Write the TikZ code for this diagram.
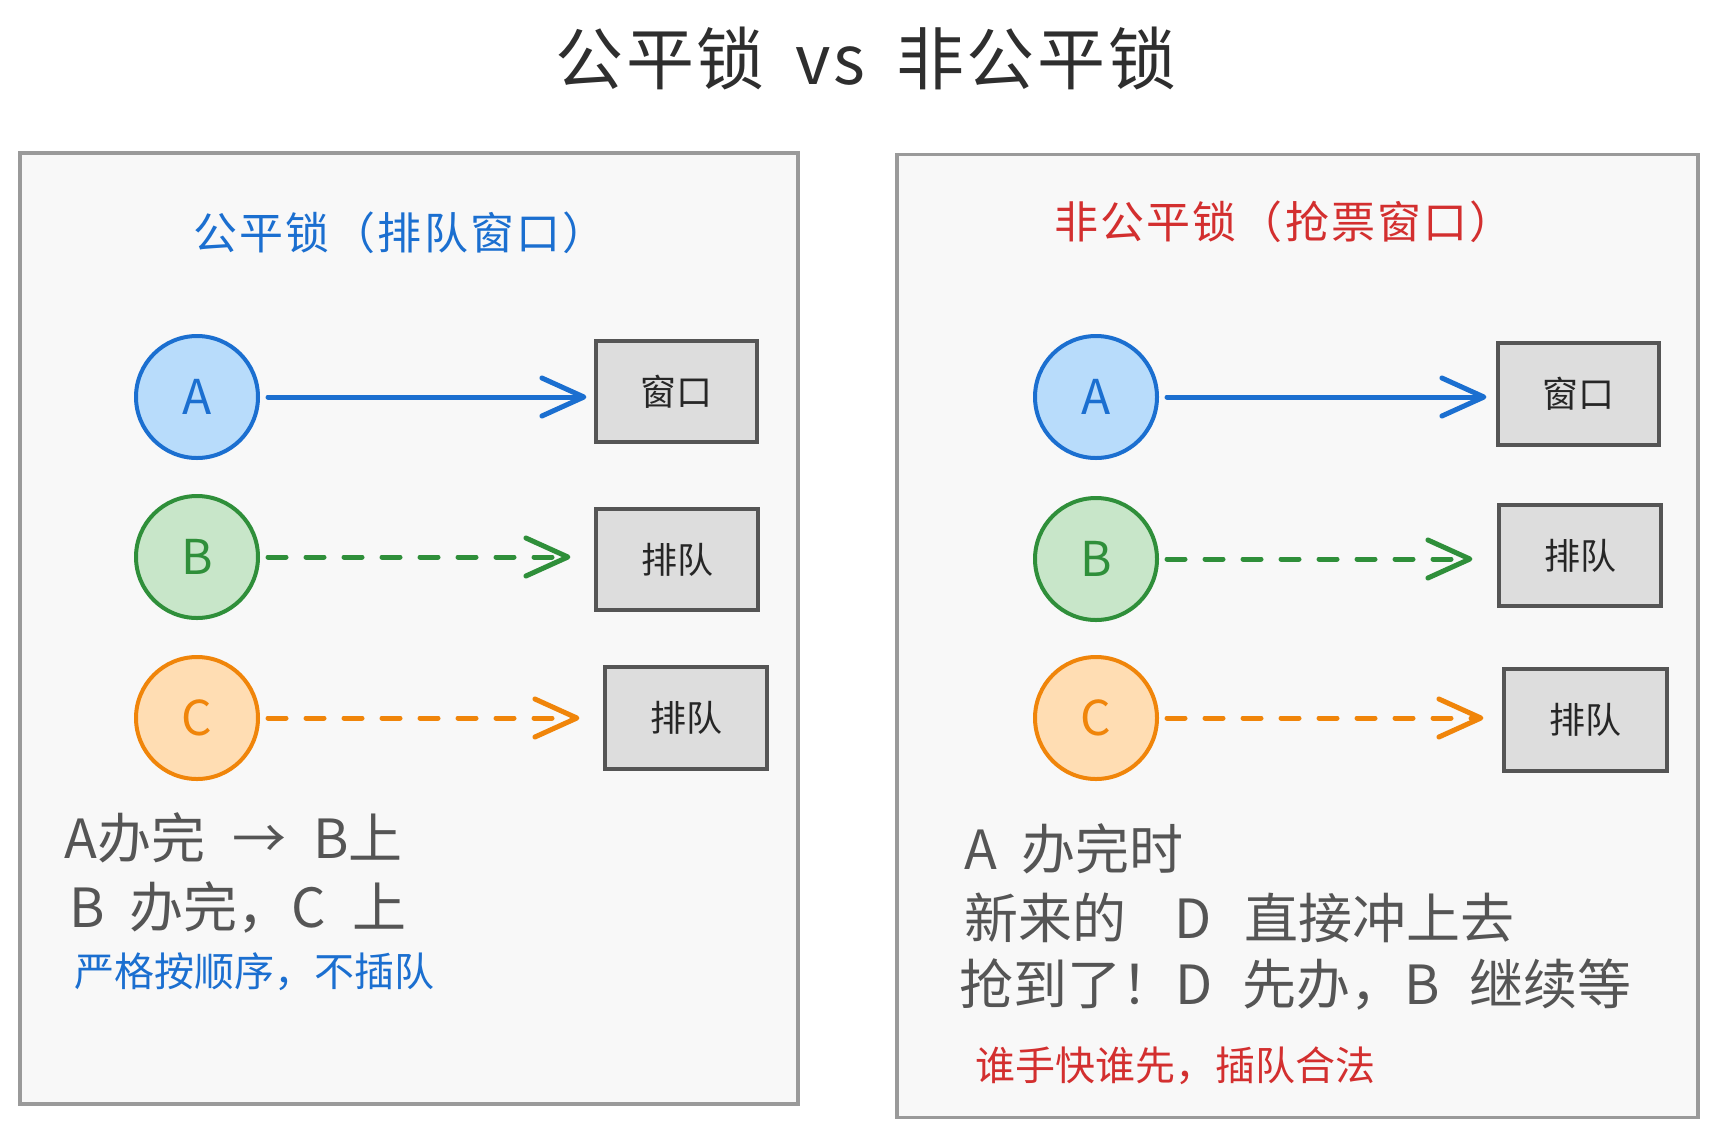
\documentclass[tikz,border=0pt]{standalone}
\usepackage{fontspec}
\setmainfont{Noto Sans CJK SC}
\usetikzlibrary{arrows.meta}
\definecolor{panelfill}{HTML}{F8F8F8}
\definecolor{paneldraw}{HTML}{9A9A9A}
\definecolor{boxfill}{HTML}{DDDDDD}
\definecolor{boxdraw}{HTML}{555555}
\definecolor{bluestroke}{HTML}{1B6FD0}
\definecolor{bluefill}{HTML}{B8DCFB}
\definecolor{greenstroke}{HTML}{2F8F3A}
\definecolor{greenfill}{HTML}{C8E6C9}
\definecolor{orangestroke}{HTML}{F0850A}
\definecolor{orangefill}{HTML}{FFDDB3}
\definecolor{redtext}{HTML}{D32F2F}
\definecolor{graytext}{HTML}{555555}
\definecolor{titletext}{HTML}{2E2E2E}
\tikzset{
  panel/.style={draw=paneldraw, fill=panelfill, line width=1.6pt, inner sep=0pt},
  person/.style={circle, line width=2pt, minimum size=61pt, inner sep=0pt, font=\fontsize{24pt}{28pt}\selectfont},
  pA/.style={person, draw=bluestroke, fill=bluefill, text=bluestroke},
  pB/.style={person, draw=greenstroke, fill=greenfill, text=greenstroke},
  pC/.style={person, draw=orangestroke, fill=orangefill, text=orangestroke},
  win/.style={draw=boxdraw, fill=boxfill, line width=1.6pt, inner sep=0pt, text=black!85, font=\fontsize{18pt}{22pt}\selectfont},
  conn/.style={line width=2.5pt, line cap=round, -{Straight Barb[length=21pt,width=19pt,round]}},
  dashconn/.style={conn, dash pattern=on 9pt off 10pt},
  note/.style={anchor=west, inner sep=0pt, text=graytext},
  subtitle/.style={inner sep=0pt, font=\fontsize{22pt}{26pt}\selectfont\addfontfeatures{LetterSpace=5}},
}
\begin{document}
\begin{tikzpicture}[x=0.5pt,y=-0.5pt]
\useasboundingbox[fill=white] (0,0) rectangle (1718,1136);

% title
\node[inner sep=0pt, text=titletext, font=\fontsize{34pt}{40pt}\selectfont\addfontfeatures{LetterSpace=4}] (title) at (866,58) {公平锁\hspace{0.45em}vs\hspace{0.45em}非公平锁};

% panels
\node[panel, minimum width=389pt, minimum height=475.5pt] (pl) at (409,628.5) {};
\node[panel, minimum width=400.5pt, minimum height=481.5pt] (pr) at (1297.5,636) {};

% left panel
\node[subtitle, text=bluestroke] (stl) at (400,233) {公平锁（排队窗口）};

\node[pA] (lA) at (197,397) {A};
\node[pB] (lB) at (197,557) {B};
\node[pC] (lC) at (197,718) {C};

\node[win, minimum width=80.5pt, minimum height=50.5pt] (lw1) at (676.5,391.5) {窗口};
\node[win, minimum width=81pt, minimum height=50.5pt] (lw2) at (677,559.5) {排队};
\node[win, minimum width=81pt, minimum height=51pt] (lw3) at (686,718) {排队};

\draw[conn, draw=bluestroke, shorten <=4pt, shorten >=4pt] (lA.east) -- (lA.east -| lw1.west);
\draw[dashconn, draw=greenstroke, shorten <=4pt, shorten >=12pt] (lB.east) -- (lB.east -| lw2.west);
\draw[dashconn, draw=orangestroke, shorten <=4pt, shorten >=12pt] (lC.east) -- (lC.east -| lw3.west);

\node[note, font=\fontsize{27pt}{32pt}\selectfont] (ln1) at (64,838) {A办完\hspace{0.5em}→\hspace{0.5em}B上};
\node[note, font=\fontsize{27pt}{32pt}\selectfont] (ln2) at (69,907) {B\hspace{0.45em}办完，C\hspace{0.5em}上};
\node[note, text=bluestroke, font=\fontsize{20pt}{24pt}\selectfont] (ln3) at (74,972) {严格按顺序，不插队};

% right panel
\node[subtitle, text=redtext] (str) at (1284,222) {非公平锁（抢票窗口）};

\node[pA] (rA) at (1096,397) {A};
\node[pB] (rB) at (1096,559) {B};
\node[pC] (rC) at (1096,718) {C};

\node[win, minimum width=80.5pt, minimum height=51pt] (rw1) at (1578.5,394) {窗口};
\node[win, minimum width=81pt, minimum height=50.5pt] (rw2) at (1580,555.5) {排队};
\node[win, minimum width=81.5pt, minimum height=51pt] (rw3) at (1585.5,720) {排队};

\draw[conn, draw=bluestroke, shorten <=4pt, shorten >=5pt] (rA.east) -- (rA.east -| rw1.west);
\draw[dashconn, draw=greenstroke, shorten <=4pt, shorten >=12.5pt] (rB.east) -- (rB.east -| rw2.west);
\draw[dashconn, draw=orangestroke, shorten <=4pt, shorten >=9.5pt] (rC.east) -- (rC.east -| rw3.west);

\node[note, font=\fontsize{27pt}{32pt}\selectfont] (rn1) at (964,849) {A\hspace{0.45em}办完时};
\node[note, font=\fontsize{27pt}{32pt}\selectfont] (rn2) at (964,918) {新来的\hspace{0.9em}D\hspace{0.6em}直接冲上去};
\node[note, font=\fontsize{27pt}{32pt}\selectfont] (rn3) at (959,984) {抢到了！D\hspace{0.55em}先办，B\hspace{0.55em}继续等};
\node[note, text=redtext, font=\fontsize{20pt}{24pt}\selectfont] (rn4) at (975,1066) {谁手快谁先，插队合法};
\end{tikzpicture}
\end{document}
